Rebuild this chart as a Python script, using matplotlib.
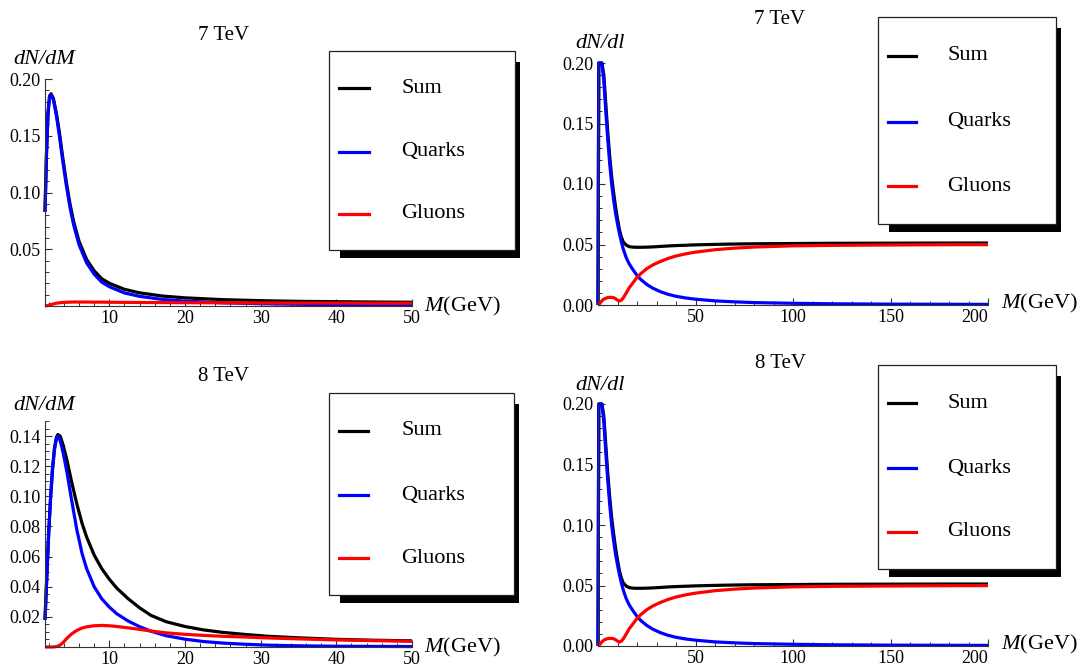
import numpy as np
import matplotlib
matplotlib.use("Agg")
import matplotlib.pyplot as plt
from matplotlib.patches import Rectangle
from matplotlib.lines import Line2D
from matplotlib.ticker import FixedLocator, MultipleLocator

plt.rcParams['font.family'] = ['Liberation Serif', 'DejaVu Serif']
plt.rcParams['mathtext.fontset'] = 'custom'
plt.rcParams['mathtext.rm'] = 'Liberation Serif'
plt.rcParams['mathtext.it'] = 'Liberation Serif:italic'

# ---------------- data ----------------
series_labels = ["Sum", "Quarks", "Gluons"]
series_colors = ["black", "blue", "red"]
panel_titles = ["7 TeV", "7 TeV", "8 TeV", "8 TeV"]

# 7 TeV, dN/dM
M_tl = [1.5, 1.7, 1.9, 2.1, 2.3, 2.6, 3.0, 3.4, 3.8, 4.3, 4.8, 5.3, 6.0, 7.0, 8.0, 9.0,
        10, 12, 14, 17, 20, 25, 30, 35, 40, 45, 50]
quarks_tl = [0.083, 0.135, 0.170, 0.184, 0.186, 0.182, 0.168, 0.150, 0.130, 0.107, 0.087,
             0.071, 0.054, 0.038, 0.028, 0.021, 0.017, 0.0115, 0.0085, 0.0058, 0.0043,
             0.0028, 0.0020, 0.0015, 0.0012, 0.0010, 0.0008]
gluons_tl = [0.0, 0.0002, 0.0005, 0.0009, 0.0013, 0.0018, 0.0024, 0.0028, 0.0031, 0.0033,
             0.0034, 0.0035, 0.0035, 0.0035, 0.0034, 0.0034, 0.0033, 0.0032, 0.0031, 0.0030,
             0.0029, 0.0028, 0.0027, 0.0026, 0.0026, 0.0025, 0.0025]
sum_tl = [0.083, 0.135, 0.170, 0.185, 0.187, 0.183, 0.170, 0.153, 0.133, 0.110, 0.090,
          0.074, 0.057, 0.041, 0.031, 0.024, 0.020, 0.0147, 0.0116, 0.0088, 0.0072,
          0.0056, 0.0047, 0.0041, 0.0038, 0.0035, 0.0033]

# 8 TeV, dN/dM
M_bl = [1.5, 1.75, 2.0, 2.25, 2.5, 2.75, 3.0, 3.2, 3.5, 3.9, 4.4, 5.0, 5.7, 6.4, 7.0, 8.0,
        9.0, 10, 11, 12.5, 14, 15.5, 17.5, 20, 22.5, 25, 28, 31, 35, 40, 45, 50]
quarks_bl = [0.018, 0.048, 0.077, 0.100, 0.118, 0.131, 0.138, 0.140, 0.137, 0.129, 0.116,
             0.098, 0.078, 0.062, 0.052, 0.040, 0.032, 0.0265, 0.022, 0.0172, 0.0135,
             0.0105, 0.0075, 0.0052, 0.0036, 0.0026, 0.0018, 0.0012, 0.0008, 0.0005,
             0.0004, 0.0003]
gluons_bl = [0.0, 0.0, 0.0, 0.0, 0.0, 0.0001, 0.0003, 0.0006, 0.0013, 0.0030, 0.0058,
             0.0086, 0.0110, 0.0126, 0.0134, 0.0141, 0.0143, 0.0141, 0.0136, 0.0127, 0.0117,
             0.0106, 0.0094, 0.0084, 0.0077, 0.0071, 0.0066, 0.0060, 0.0054, 0.0047,
             0.0042, 0.0038]
sum_bl = [0.018, 0.048, 0.077, 0.100, 0.119, 0.132, 0.139, 0.141, 0.140, 0.134, 0.124,
          0.110, 0.095, 0.082, 0.073, 0.061, 0.052, 0.045, 0.039, 0.032, 0.026, 0.021,
          0.0168, 0.0136, 0.0113, 0.0097, 0.0083, 0.0071, 0.0061, 0.0051, 0.0045, 0.0041]

# 7 TeV, dN/dl
M_tr = [0, 0.4, 1, 2, 3, 4, 5, 6, 7, 8, 9, 10, 11, 12, 13, 14.5, 16, 18, 20, 22, 25, 28,
        32, 36, 40, 45, 50, 60, 70, 80, 100, 120, 150, 175, 200]
quarks_tr = [0.0, 0.2, 0.2, 0.2, 0.185, 0.160, 0.137, 0.117, 0.100, 0.087, 0.076, 0.067,
             0.059, 0.052, 0.046, 0.039, 0.034, 0.029, 0.0245, 0.021, 0.017, 0.014, 0.011,
             0.0088, 0.0072, 0.0058, 0.0048, 0.0034, 0.0026, 0.0020, 0.0014, 0.0010,
             0.0007, 0.0006, 0.0005]
gluons_tr = [0.0, 0.0006, 0.0015, 0.0035, 0.0048, 0.0056, 0.0061, 0.0063, 0.0063, 0.0060,
             0.0052, 0.0040, 0.0033, 0.0040, 0.0060, 0.0100, 0.0142, 0.0185, 0.0228,
             0.0260, 0.0300, 0.0330, 0.0360, 0.0385, 0.0405, 0.0423, 0.0437, 0.0457,
             0.0470, 0.0479, 0.0489, 0.0493, 0.0496, 0.0498, 0.0499]
sum_tr = [0.0, 0.2, 0.2, 0.2, 0.190, 0.166, 0.143, 0.123, 0.106, 0.093, 0.081, 0.071,
          0.062, 0.056, 0.052, 0.0495, 0.0482, 0.0478, 0.0477, 0.0477, 0.0478, 0.0480,
          0.0484, 0.0488, 0.0491, 0.0494, 0.0497, 0.0501, 0.0504, 0.0506, 0.0508, 0.0510,
          0.0511, 0.0512, 0.0512]

# 8 TeV, dN/dl
M_br = [0, 0.4, 1, 2, 3, 4, 5, 6, 7, 8, 9, 10, 11, 12, 13, 14.5, 16, 18, 20, 22, 25, 28,
        32, 36, 40, 45, 50, 60, 70, 80, 100, 120, 150, 175, 200]
quarks_br = [0.0, 0.2, 0.2, 0.2, 0.185, 0.160, 0.137, 0.117, 0.100, 0.087, 0.076, 0.067,
             0.059, 0.052, 0.046, 0.039, 0.034, 0.029, 0.0245, 0.021, 0.017, 0.014, 0.011,
             0.0088, 0.0072, 0.0058, 0.0048, 0.0034, 0.0026, 0.0020, 0.0014, 0.0010,
             0.0007, 0.0006, 0.0005]
gluons_br = [0.0, 0.0006, 0.0015, 0.0035, 0.0048, 0.0056, 0.0061, 0.0063, 0.0063, 0.0060,
             0.0052, 0.0040, 0.0033, 0.0040, 0.0060, 0.0100, 0.0142, 0.0185, 0.0228,
             0.0260, 0.0300, 0.0330, 0.0360, 0.0385, 0.0405, 0.0423, 0.0437, 0.0457,
             0.0470, 0.0479, 0.0489, 0.0493, 0.0496, 0.0498, 0.0499]
sum_br = [0.0, 0.2, 0.2, 0.2, 0.190, 0.166, 0.143, 0.123, 0.106, 0.093, 0.081, 0.071,
          0.062, 0.056, 0.052, 0.0495, 0.0482, 0.0478, 0.0477, 0.0477, 0.0478, 0.0480,
          0.0484, 0.0488, 0.0491, 0.0494, 0.0497, 0.0501, 0.0504, 0.0506, 0.0508, 0.0510,
          0.0511, 0.0512, 0.0512]

yticks_dM7 = [0.05, 0.10, 0.15, 0.20]
yticks_dM8 = [0.02, 0.04, 0.06, 0.08, 0.10, 0.12, 0.14]
yticks_dl = [0.00, 0.05, 0.10, 0.15, 0.20]
xticks_M = [10, 20, 30, 40, 50]
xticks_l = [50, 100, 150, 200]

# ---------------- layout ----------------
W, H = 1086, 667
fig = plt.figure(figsize=(W / 100, H / 100), dpi=100)


def rect(l, t, r, b):
    return [l / W, 1 - b / H, (r - l) / W, (b - t) / H]


panels = [
    dict(box=(45, 79, 412, 306), M=M_tl, ys=(sum_tl, quarks_tl, gluons_tl), xlim=(1.5, 50),
         ylim=(0, 0.20), yt=yticks_dM7, ymin=0.01, xt=xticks_M, xmin=2,
         title=panel_titles[0], tpos=(224, 35), ylab="dN/dM", ylpos=(13, 60),
         xlpos=(424, 306), leg=(329, 51, 515, 250)),
    dict(box=(598, 63, 988, 305), M=M_tr, ys=(sum_tr, quarks_tr, gluons_tr), xlim=(0, 200),
         ylim=(0, 0.20), yt=yticks_dl, ymin=0.01, xt=xticks_l, xmin=10,
         title=panel_titles[1], tpos=(780, 20), ylab="dN/dl", ylpos=(575, 44),
         xlpos=(1001, 303), leg=(878, 17, 1056, 224)),
    dict(box=(45, 421, 412, 647), M=M_bl, ys=(sum_bl, quarks_bl, gluons_bl), xlim=(1.5, 50),
         ylim=(0, 0.15), yt=yticks_dM8, ymin=0.005, xt=xticks_M, xmin=2,
         title=panel_titles[2], tpos=(224, 377), ylab="dN/dM", ylpos=(13, 405),
         xlpos=(424, 647), leg=(329, 393, 514, 595)),
    dict(box=(598, 404, 988, 646), M=M_br, ys=(sum_br, quarks_br, gluons_br), xlim=(0, 200),
         ylim=(0, 0.20), yt=yticks_dl, ymin=0.01, xt=xticks_l, xmin=10,
         title=panel_titles[3], tpos=(780, 363), ylab="dN/dl", ylpos=(575, 385),
         xlpos=(1001, 644), leg=(878, 365, 1056, 569)),
]


def fx(x):
    return x / W


def fy(y):
    return 1 - y / H


for p in panels:
    ax = fig.add_axes(rect(*p["box"]))
    for y, c in zip(p["ys"], series_colors):
        ax.plot(p["M"], y, color=c, lw=2.3, clip_on=False, solid_capstyle='butt')
    ax.set_xlim(*p["xlim"])
    ax.set_ylim(*p["ylim"])
    for s in ("top", "right"):
        ax.spines[s].set_visible(False)
    for s in ("left", "bottom"):
        ax.spines[s].set_linewidth(0.8)
        ax.spines[s].set_color("#333333")
    ax.yaxis.set_major_locator(FixedLocator(p["yt"]))
    ax.set_yticklabels(["%.2f" % v for v in p["yt"]])
    ax.yaxis.set_minor_locator(MultipleLocator(p["ymin"]))
    ax.xaxis.set_major_locator(FixedLocator(p["xt"]))
    ax.set_xticklabels([str(v) for v in p["xt"]])
    ax.xaxis.set_minor_locator(MultipleLocator(p["xmin"]))
    ax.tick_params(which="major", direction="in", length=5, width=0.8, labelsize=13,
                   pad=3, color="#333333")
    ax.tick_params(which="minor", direction="in", length=3, width=0.7, color="#333333")
    if p["xlim"][1] == 200:
        ax.get_xticklabels()[-1].set_ha("right")

    fig.text(fx(p["tpos"][0]), fy(p["tpos"][1]), p["title"], fontsize=15,
             ha="center", va="center")
    fig.text(fx(p["ylpos"][0]), fy(p["ylpos"][1]), p["ylab"], fontsize=16,
             fontstyle="italic", ha="left", va="center")
    fig.text(fx(p["xlpos"][0]), fy(p["xlpos"][1]), r"$M$(GeV)", fontsize=16,
             ha="left", va="center")

    # legend box with drop shadow
    l, t, r, b = p["leg"]
    bw, bh = r - l, b - t
    fig.add_artist(Rectangle((fx(l + 11), fy(b + 8)), fx(r + 5 - (l + 11)),
                             (b + 8 - (t + 11)) / H, transform=fig.transFigure,
                             facecolor="black", edgecolor="none", zorder=5))
    fig.add_artist(Rectangle((fx(l), fy(b)), fx(bw), bh / H, transform=fig.transFigure,
                             facecolor="white", edgecolor="#222222", lw=0.9, zorder=6))
    for frac, lab, c in zip([0.187, 0.507, 0.817], series_labels, series_colors):
        yy = t + frac * bh
        fig.add_artist(Line2D([fx(l + 0.054 * bw), fx(l + 0.213 * bw)], [fy(yy), fy(yy)],
                              transform=fig.transFigure, color=c, lw=2.3, zorder=7))
        fig.text(fx(l + 0.39 * bw), fy(yy), lab, fontsize=16, ha="left", va="center",
                 zorder=7)

fig.savefig("out.png", dpi=100)
